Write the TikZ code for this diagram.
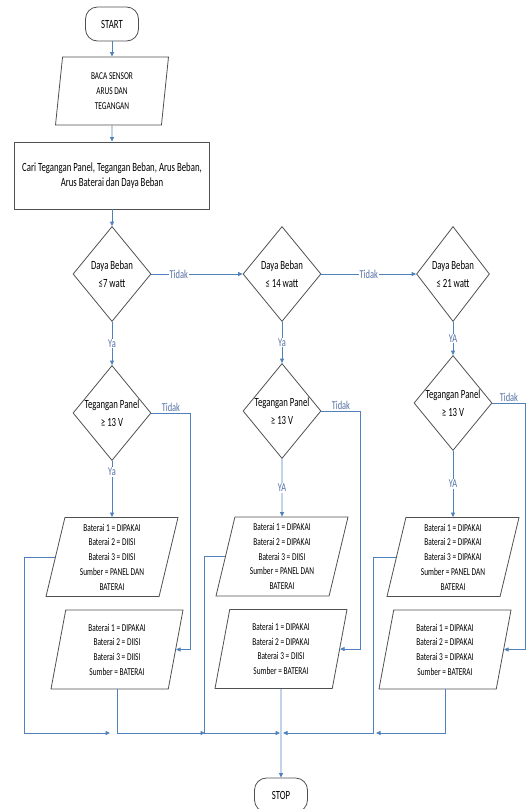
\documentclass[tikz,border=0pt]{standalone}
\usepackage{fontspec}
\setmainfont{Carlito}[FakeStretch=0.7]
\usetikzlibrary{shapes.geometric,arrows.meta}

\definecolor{flowblue}{RGB}{79,129,189}
\definecolor{textblue}{RGB}{84,112,165}
\definecolor{edgegray}{RGB}{80,80,80}

\tikzset{
  box/.style={draw=edgegray,line width=0.8pt,align=center,inner sep=0pt},
  term/.style={box,rounded corners=12pt,minimum width=53pt,minimum height=34pt,font=\fontsize{12.5}{15}\selectfont},
  io/.style={box,trapezium,trapezium left angle=74,trapezium right angle=106,trapezium stretches=true,trapezium stretches body=true,minimum width=132pt,minimum height=79pt,font=\fontsize{10.5}{14.7}\selectfont},
  proc/.style={box,minimum width=195pt,minimum height=67pt,font=\fontsize{12.5}{15}\selectfont},
  dec/.style={box,diamond,minimum width=78pt,minimum height=95pt,label={[font=\fontsize{12.5}{18}\selectfont,align=center]center:#1}},
  flow/.style={draw=flowblue,line width=0.8pt,->},
  lbl/.style={text=textblue,fill=white,inner sep=1pt,font=\fontsize{12}{14}\selectfont}
}

\begin{document}
\begin{tikzpicture}[x=1pt,y=-1pt,>={Triangle[length=4.5pt,width=4pt]}]
      \useasboundingbox (0,0) rectangle (526,809);

      \node[term] (1) at (112,24) {START};
      \node[io,trapezium left angle=79,trapezium right angle=101,minimum width=113pt,minimum height=68pt] (2) at (112,91) {BACA SENSOR\\ARUS DAN\\TEGANGAN};
      \node[proc] (3) at (112,175.5) {Cari Tegangan Panel, Tegangan Beban, Arus Beban,\\Arus Baterai dan Daya Beban};

      \node[dec={Daya Beban\\≤7 watt}] (4) at (112,274) {};
      \node[dec={Daya Beban\\≤ 14 watt}] (5) at (282,274) {};
      \node[dec={Daya Beban\\≤ 21 watt},minimum width=73pt] (6) at (453,274) {};
      \node[dec={Tegangan Panel\\≥ 13 V}] (7) at (112,413) {};
      \node[dec={Tegangan Panel\\≥ 13 V}] (8) at (282,411) {};
      \node[dec={Tegangan Panel\\≥ 13 V}] (9) at (453,403) {};

      \node[io] (10) at (112,557) {Baterai 1 = DIPAKAI\\Baterai 2 = DIISI\\Baterai 3 = DIISI\\Sumber = PANEL DAN\\BATERAI};
      \node[io] (11) at (117,649.5) {Baterai 1 = DIPAKAI\\Baterai 2 = DIISI\\Baterai 3 = DIISI\\Sumber = BATERAI};
      \node[io] (12) at (282,556.5) {Baterai 1 = DIPAKAI\\Baterai 2 = DIPAKAI\\Baterai 3 = DIISI\\Sumber = PANEL DAN\\BATERAI};
      \node[io] (13) at (281,649) {Baterai 1 = DIPAKAI\\Baterai 2 = DIPAKAI\\Baterai 3 = DIISI\\Sumber = BATERAI};
      \node[io] (14) at (453,557) {Baterai 1 = DIPAKAI\\Baterai 2 = DIPAKAI\\Baterai 3 = DIPAKAI\\Sumber = PANEL DAN\\BATERAI};
      \node[io] (15) at (445,649.5) {Baterai 1 = DIPAKAI\\Baterai 2 = DIPAKAI\\Baterai 3 = DIPAKAI\\Sumber = BATERAI};

      \node[term] (16) at (281,795) {STOP};

      \coordinate (a) at (110,733);
      \coordinate (b) at (205,733);
      \coordinate (c) at (280,733);
      \coordinate (d) at (283,733);
      \coordinate (e) at (376,733);

      \draw[flow] (1) -- (2);
      \draw[flow] (2) -- (3);
      \draw[flow] (3) -- (4);
      \draw[flow] (4) -- node[lbl,pos=0.3] {Tidak} (5);
      \draw[flow] (5) -- node[lbl] {Tidak} (6);
      \draw[flow] (4) -- node[lbl] {Ya} (7);
      \draw[flow] (5) -- node[lbl] {Ya} (8);
      \draw[flow] (6) -- node[lbl] {YA} (9);
      \draw[flow] (7) -- node[lbl,pos=0.2] {Ya} (10);
      \draw[flow] (8) -- node[lbl] {YA} (12);
      \draw[flow] (9) -- node[lbl] {YA} (14);
      \draw[flow] (7.east) -- node[lbl,above] {Tidak} ++(39,0) |- (11.east);
      \draw[flow] (8.east) -- node[lbl,above] {Tidak} ++(39,0) |- (13.east);
      \draw[flow] (9.east) -- node[lbl,above] {Tidak} ++(33,0) |- (15.east);
      \draw[flow] (10.west) -- ++(-31,0) |- (a);
      \draw[flow] (11.south) |- (b);
      \draw[flow] (12.west) -- ++(-21,0) |- (c);
      \draw[flow] (13) -- (16);
      \draw[flow] (14.west) -- ++(-23,0) |- (d);
      \draw[flow] (15.south) |- (e);
    \end{tikzpicture}
\end{document}
